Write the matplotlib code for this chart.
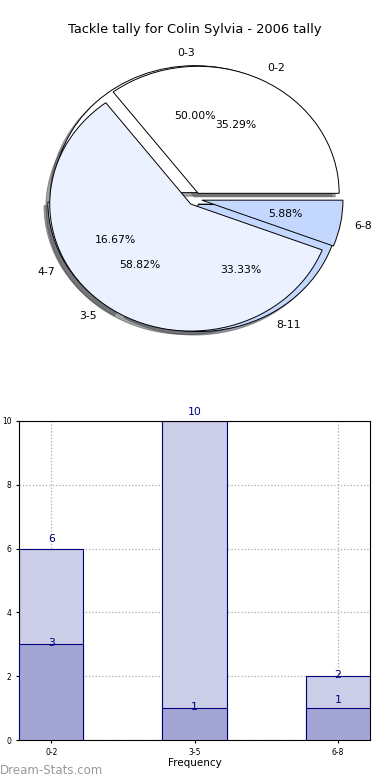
import matplotlib
matplotlib.use("Agg")
import matplotlib.pyplot as plt

title = "Tackle tally for Colin Sylvia - 2006 tally"
pie1_labels = ["0-2", "3-5", "6-8"]
pie1_values = [6, 10, 1]
pie2_labels = ["0-3", "4-7", "8-11"]
pie2_values = [3, 1, 2]

bar_labels = ["0-2", "3-5", "6-8"]
bar_back = [6, 10, 2]
bar_front = [3, 1, 1]

pie_colors = ["#FFFFFF", "#EBF1FE", "#C4D8FF"]

fig = plt.figure(figsize=(3.9, 7.8), dpi=100)
fig.patch.set_facecolor("white")

fig.text(0.5, 1 - 30 / 780, title, ha="center", va="center", fontsize=9.4)

# pie axes: centre (194, 199) px, radius 141 x 127 px
cx, cy, rx, ry = 195, 199, 141, 127
ax = fig.add_axes([(cx - 1.25 * rx) / 390, 1 - (cy + 1.25 * ry) / 780,
                   2.5 * rx / 390, 2.5 * ry / 780])

tp = dict(fontsize=7.8)
wp = dict(edgecolor="black", linewidth=0.7)
for vals, labs in ((pie2_values, pie2_labels), (pie1_values, pie1_labels)):
    wedges, texts, autotexts = ax.pie(
        vals, labels=labs, autopct="%1.2f%%", shadow=True,
        explode=[0.05] * len(vals), colors=pie_colors, startangle=0,
        counterclock=True, textprops=tp, wedgeprops=wp, frame=True)
    for t in texts:
        # old-style alignment: labels at x >= 0 are left aligned
        if t.get_position()[0] >= -1e-9:
            t.set_ha("left")
ax.set_xlim(-1.25, 1.25)
ax.set_ylim(-1.25, 1.25)
ax.set_aspect("auto")
ax.axis("off")

bx = fig.add_axes([19 / 390, 1 - 740 / 780, 351 / 390, 319 / 780])
xs = list(range(len(bar_labels)))
w = 0.45
bx.bar(xs, bar_back, width=w, align="edge", color="#CCCDE6",
       edgecolor="#00007F", linewidth=0.8, zorder=2)
bx.bar(xs, bar_front, width=w, align="edge", color="#A3A5D2",
       edgecolor="#00007F", linewidth=0.8, zorder=3)

# vertical offsets (points) of the value labels, as drawn in the reference
back_off = [7.2, 6.5, 0.7]
front_off = [0.7, 0.7, 5.8]
for x, v, o in zip(xs, bar_back, back_off):
    bx.annotate(str(v), (x + w / 2, v), xytext=(0, o), textcoords="offset points",
                ha="center", va="center", color="#00007F", fontsize=7.8,
                zorder=4, annotation_clip=False)
for x, v, o in zip(xs, bar_front, front_off):
    bx.annotate(str(v), (x + w / 2, v), xytext=(0, o), textcoords="offset points",
                ha="center", va="center", color="#00007F", fontsize=7.8,
                zorder=4, annotation_clip=False)
bx.set_xlim(0, len(bar_labels) - 1 + w)
bx.set_ylim(0, 10)
bx.set_yticks([0, 2, 4, 6, 8, 10])
bx.set_xticks([x + w / 2 for x in xs])
bx.set_xticklabels(bar_labels)
bx.tick_params(labelsize=5.5, length=2)
bx.grid(True, linestyle=":", color="#AAAAAA", linewidth=0.9, zorder=0)
bx.set_axisbelow(True)
bx.set_xlabel("Frequency", fontsize=7.5, labelpad=1)
bx.set_ylabel("Tackle Tally", fontsize=7.5, labelpad=2)

fig.text(0.0, 1 - 770 / 780, "Dream-Stats.com", ha="left", va="center",
         fontsize=8.5, color="#999999")

fig.savefig("out.png", dpi=100)
